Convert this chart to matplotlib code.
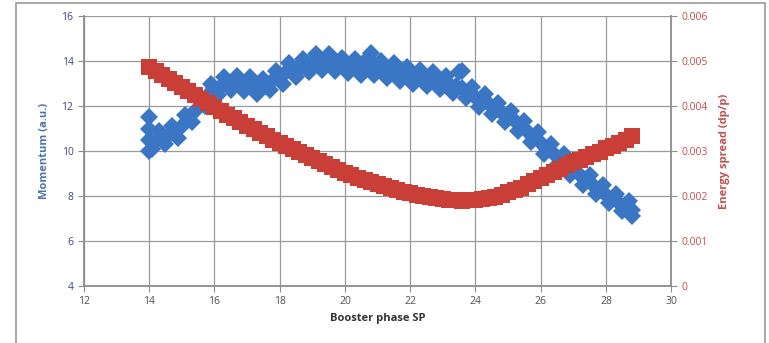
import matplotlib
matplotlib.use("Agg")
import matplotlib.pyplot as plt
from matplotlib.patches import Rectangle

# booster phase set point (x) and momentum, main band
phase_a = [14.0, 14.2, 14.4, 14.6, 14.8, 15.0, 15.2, 15.4, 15.6, 15.8,
           16.0, 16.2, 16.4, 16.6, 16.8, 17.0, 17.2, 17.4, 17.6, 17.8,
           18.0, 18.2, 18.4, 18.6, 18.8, 19.0, 19.2, 19.4, 19.6, 19.8,
           20.0, 20.2, 20.4, 20.6, 20.8, 21.0, 21.2, 21.4, 21.6, 21.8,
           22.0, 22.2, 22.4, 22.6, 22.8, 23.0, 23.2, 23.4, 23.6, 23.8,
           24.0, 24.2, 24.4, 24.6, 24.8, 25.0, 25.2, 25.4, 25.6, 25.8,
           26.0, 26.2, 26.4, 26.6, 26.8, 27.0, 27.2, 27.4, 27.6, 27.8,
           28.0, 28.2, 28.4, 28.6, 28.8]
momentum_a = [10.5, 10.5, 10.6, 10.7, 10.9, 11.1, 11.4, 11.8, 12.2, 12.5,
              12.8, 12.9, 13.0, 13.0, 13.0, 12.95, 12.9, 12.85, 12.95, 13.15,
              13.35, 13.5, 13.6, 13.7, 13.8, 13.9, 13.95, 13.95, 13.9, 13.85,
              13.8, 13.75, 13.75, 13.75, 13.8, 13.7, 13.6, 13.55, 13.5, 13.4,
              13.35, 13.3, 13.25, 13.2, 13.1, 13.05, 13.0, 12.9, 12.8, 12.6,
              12.4, 12.25, 12.1, 11.9, 11.7, 11.55, 11.35, 11.1, 10.85, 10.6,
              10.35, 10.1, 9.85, 9.65, 9.4, 9.2, 8.95, 8.7, 8.5, 8.25,
              8.05, 7.9, 7.7, 7.55, 7.4]

# second pass of shots (scatter around the band)
phase_b = [14.1, 14.3, 14.5, 14.7, 14.9, 15.1, 15.3, 15.5, 15.7, 15.9,
           16.1, 16.3, 16.5, 16.7, 16.9, 17.1, 17.3, 17.5, 17.7, 17.9,
           18.1, 18.3, 18.5, 18.7, 18.9, 19.1, 19.3, 19.5, 19.7, 19.9,
           20.1, 20.3, 20.5, 20.7, 20.9, 21.1, 21.3, 21.5, 21.7, 21.9,
           22.1, 22.3, 22.5, 22.7, 22.9, 23.1, 23.3, 23.5, 23.7, 23.9,
           24.1, 24.3, 24.5, 24.7, 24.9, 25.1, 25.3, 25.5, 25.7, 25.9,
           26.1, 26.3, 26.5, 26.7, 26.9, 27.1, 27.3, 27.5, 27.7, 27.9,
           28.1, 28.3, 28.5, 28.7,
           14.0, 14.0, 14.0, 23.6, 20.8, 28.8]
momentum_b = [10.1, 10.9, 10.3, 11.1, 10.6, 11.6, 11.3, 12.4, 12.0, 13.0,
              12.5, 13.3, 12.7, 13.35, 12.65, 13.3, 12.55, 13.2, 12.7, 13.55,
              13.0, 13.9, 13.3, 14.1, 13.5, 14.3, 13.6, 14.3, 13.55, 14.15,
              13.45, 14.1, 13.4, 14.15, 13.4, 14.0, 13.25, 13.9, 13.1, 13.75,
              13.0, 13.6, 12.9, 13.5, 12.75, 13.35, 12.6, 13.5, 12.35, 12.85,
              11.95, 12.55, 11.65, 12.15, 11.3, 11.8, 10.9, 11.35, 10.4, 10.85,
              9.85, 10.3, 9.4, 9.85, 8.95, 9.45, 8.5, 8.95, 8.1, 8.5,
              7.7, 8.1, 7.35, 7.8,
              11.5, 10.0, 11.0, 13.55, 14.35, 7.1]

# energy spread dp/p on the same phase points as the main band
spread = [0.00488, 0.00479, 0.00470, 0.00461, 0.00451, 0.00442, 0.00433, 0.00424, 0.00415, 0.00407,
          0.00398, 0.00390, 0.00381, 0.00373, 0.00364, 0.00356, 0.00348, 0.00340, 0.00333, 0.00325,
          0.00318, 0.00311, 0.00304, 0.00297, 0.00291, 0.00284, 0.00278, 0.00271, 0.00265, 0.00258,
          0.00252, 0.00247, 0.00241, 0.00236, 0.00231, 0.00226, 0.00222, 0.00218, 0.00214, 0.00210,
          0.00206, 0.00203, 0.00200, 0.00198, 0.00195, 0.00193, 0.00192, 0.00191, 0.00190, 0.00191,
          0.00192, 0.00194, 0.00196, 0.00199, 0.00203, 0.00208, 0.00213, 0.00219, 0.00226, 0.00233,
          0.00240, 0.00247, 0.00254, 0.00261, 0.00268, 0.00275, 0.00281, 0.00287, 0.00293, 0.00299,
          0.00306, 0.00312, 0.00318, 0.00325, 0.00333]

x_ticks = [12, 14, 16, 18, 20, 22, 24, 26, 28, 30]
left_ticks = [4, 6, 8, 10, 12, 14, 16]
right_ticks = [0, 0.001, 0.002, 0.003, 0.004, 0.005, 0.006]
right_labels = ["0", "0.001", "0.002", "0.003", "0.004", "0.005", "0.006"]

BLUE = "#3a76c4"
RED = "#c93f38"
GRID = "#9a9a9a"

plt.rcParams['font.family'] = ['Open Sans', 'DejaVu Sans']

fig = plt.figure(figsize=(7.69, 3.43), dpi=100)
ax = fig.add_axes([0.109, 0.166, 0.764, 0.787])

ax.plot(phase_a, momentum_a, linestyle="none", marker="D", markersize=9,
        color=BLUE, markeredgewidth=0)
ax.plot(phase_b, momentum_b, linestyle="none", marker="D", markersize=9,
        color=BLUE, markeredgewidth=0)

ax.set_xlim(12, 30)
ax.set_ylim(4, 16)
ax.set_xticks(x_ticks)
ax.set_yticks(left_ticks)
ax.grid(True, color=GRID, linewidth=0.9)
ax.set_axisbelow(True)
for s in ["top", "right"]:
    ax.spines[s].set_visible(False)
for s in ["left", "bottom"]:
    ax.spines[s].set_color("#8c8c8c")
    ax.spines[s].set_linewidth(1.3)
ax.tick_params(axis="x", colors="#8c8c8c", labelcolor="#505050", labelsize=7.5,
               length=4, direction="out")
ax.tick_params(axis="y", colors="#8c8c8c", labelcolor="#3c4778", labelsize=7.5,
               length=4, direction="out")
ax.set_xlabel("Booster phase SP", fontsize=8, fontweight="bold", color="#333333",
              labelpad=4)
ax.set_ylabel("Momentum (a.u.)", fontsize=8, fontweight="bold", color="#4a72b0",
              labelpad=8)

ax2 = ax.twinx()
ax2.plot(phase_a, spread, linestyle="none", marker="s", markersize=11,
         color=RED, markeredgewidth=0)
ax2.set_ylim(0, 0.006)
ax2.set_yticks(right_ticks)
ax2.set_yticklabels(right_labels)
for s in ["top", "left", "bottom"]:
    ax2.spines[s].set_visible(False)
ax2.spines["right"].set_color("#8c8c8c")
ax2.spines["right"].set_linewidth(1.3)
ax2.tick_params(axis="y", colors="#8c8c8c", labelcolor="#c0504d", labelsize=7.5,
                length=4, direction="out")
ax2.set_ylabel("Energy spread (dp/p)", fontsize=8, fontweight="bold", color="#c0504d",
               labelpad=8)

# outer chart frame
fig.patches.append(Rectangle((16 / 769, -0.02), 749 / 769, 1.02 - 3 / 343,
                             transform=fig.transFigure, fill=False,
                             edgecolor="#9a9a9a", linewidth=1.2))

fig.savefig("out.png", dpi=100)
